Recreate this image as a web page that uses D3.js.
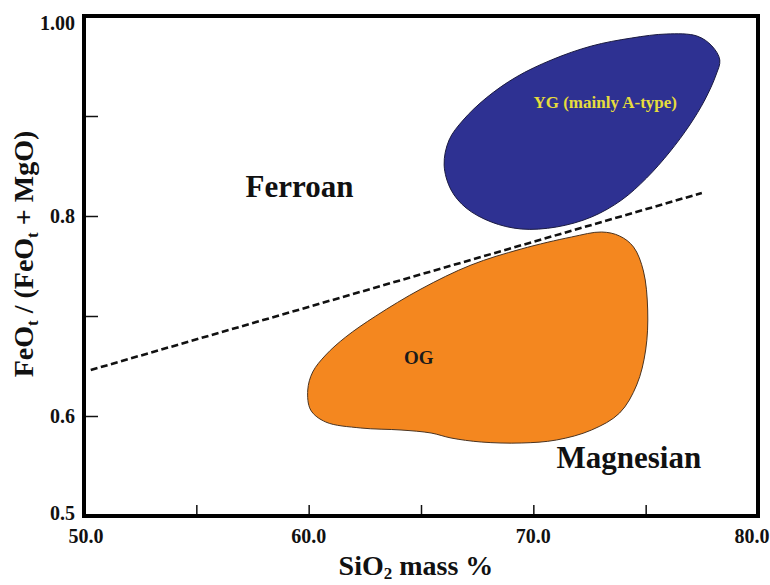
<!DOCTYPE html>
<html><head><meta charset="utf-8">
<script src="https://cdn.jsdelivr.net/npm/d3@7"></script>
<style>
html,body{margin:0;padding:0;background:#fff;}
text{font-family:"Liberation Serif","Times New Roman",serif;font-weight:bold;}
</style></head>
<body><svg id="c" width="770" height="585"></svg>
<script>
// ---- data ----
const xDomain = [50, 80];
const yDomain = [0.5, 1.0];
const xTickMarks = [55, 60, 65, 70, 75];
const xTickLabels = [50, 60, 70, 80];
const yTickMarks = [0.6, 0.7, 0.8, 0.9];
const yTickLabels = [1.0, 0.8, 0.6, 0.5];
const yTickText = ["1.00", "0.8", "0.6", "0.5"];

// boundary line Ferroan / Magnesian
const boundaryLine = [[50.3, 0.646], [77.5, 0.823]];

// YG field (mainly A-type)
const ygX = [66.03,66.25,66.88,67.90,69.24,70.80,72.59,74.38,75.94,77.28,77.95,78.30,78.13,77.63,76.96,76.07,75.04,73.93,72.59,71.03,69.46,68.13,67.01,66.34];
const ygY = [0.851,0.876,0.896,0.918,0.939,0.956,0.970,0.978,0.982,0.980,0.970,0.956,0.941,0.916,0.891,0.864,0.838,0.816,0.799,0.789,0.787,0.794,0.808,0.826];

// OG field
const ogX = [59.96,60.18,60.76,61.65,62.99,65.00,67.23,69.46,71.70,73.04,73.84,74.46,74.90,75.09,75.00,74.60,73.84,72.59,71.03,69.46,67.68,66.34,65.45,64.11,62.32,60.76,60.09];
const ogY = [0.626,0.644,0.661,0.679,0.700,0.727,0.751,0.767,0.779,0.784,0.780,0.769,0.745,0.706,0.666,0.631,0.603,0.586,0.576,0.573,0.574,0.578,0.583,0.586,0.588,0.594,0.606];

// ---- chart ----
const svg = d3.select("#c");
const L = 84, R = 758, T = 16, B = 516;
const x = d3.scaleLinear().domain(xDomain).range([L, R]);
const y = d3.scaleLinear().domain(yDomain).range([B, T]);

const closed = d3.line().x(d => x(d[0])).y(d => y(d[1])).curve(d3.curveCatmullRomClosed.alpha(0.5));

svg.append("path")
  .attr("d", closed(ogX.map((v, i) => [v, ogY[i]])))
  .attr("fill", "#f4871f").attr("stroke", "#4a3320").attr("stroke-width", 1);

svg.append("path")
  .attr("d", closed(ygX.map((v, i) => [v, ygY[i]])))
  .attr("fill", "#2e3192").attr("stroke", "#1a1a40").attr("stroke-width", 1);

svg.append("path")
  .attr("d", d3.line().x(d => x(d[0])).y(d => y(d[1]))(boundaryLine))
  .attr("fill", "none").attr("stroke", "#111").attr("stroke-width", 2.6)
  .attr("stroke-dasharray", "7,3.5");

// axes: inward ticks
svg.append("g").attr("transform", `translate(0,${B})`)
  .call(d3.axisBottom(x).tickValues(xTickMarks).tickSize(-11).tickFormat(""))
  .call(g => { g.select(".domain").remove(); g.selectAll("line").attr("stroke", "#111").attr("stroke-width", 1.5); });
svg.append("g").attr("transform", `translate(${L},0)`)
  .call(d3.axisLeft(y).tickValues(yTickMarks).tickSize(-14).tickFormat(""))
  .call(g => { g.select(".domain").remove(); g.selectAll("line").attr("stroke", "#111").attr("stroke-width", 1.5); });

// frame
svg.append("rect").attr("x", L).attr("y", T).attr("width", R - L).attr("height", B - T)
  .attr("fill", "none").attr("stroke", "#000").attr("stroke-width", 4);

// tick labels
const xOff = [2, 0, 0, -6];
svg.append("g").selectAll("text").data(xTickLabels).join("text")
  .attr("x", (d, i) => x(d) + xOff[i]).attr("y", 543).attr("text-anchor", "middle")
  .attr("font-size", 20).attr("fill", "#111").text(d => d.toFixed(1));
const yOff = [7, 0, 0, -3];
svg.append("g").selectAll("text").data(yTickLabels).join("text")
  .attr("x", 75).attr("y", (d, i) => y(d) + yOff[i]).attr("dy", "0.35em").attr("text-anchor", "end")
  .attr("font-size", 20).attr("fill", "#111").text((d, i) => yTickText[i]);

// axis titles
const xt = svg.append("text").attr("x", 416).attr("y", 575).attr("text-anchor", "middle")
  .attr("font-size", 28).attr("fill", "#111");
xt.append("tspan").text("SiO");
xt.append("tspan").attr("font-size", 17).attr("dy", 4).text("2");
xt.append("tspan").attr("dy", -4).text(" mass %");

const yt = svg.append("text").attr("transform", "translate(33,254) rotate(-90)").attr("text-anchor", "middle")
  .attr("font-size", 28).attr("fill", "#111");
yt.append("tspan").text("FeO");
yt.append("tspan").attr("font-size", 17).attr("dy", 5).text("t");
yt.append("tspan").attr("dy", -5).text(" / (FeO");
yt.append("tspan").attr("font-size", 17).attr("dy", 5).text("t");
yt.append("tspan").attr("dy", -5).text(" + MgO)");

// field labels
svg.append("text").attr("x", x(57.19)).attr("y", y(0.819)).attr("font-size", 31).attr("fill", "#111").text("Ferroan");
svg.append("text").attr("x", x(71.03)).attr("y", y(0.548)).attr("font-size", 31).attr("fill", "#111").text("Magnesian");
svg.append("text").attr("x", x(73.2)).attr("y", y(0.908)).attr("text-anchor", "middle").attr("font-size", 17).attr("fill", "#e6dc3c").text("YG (mainly A-type)");
svg.append("text").attr("x", x(64.9)).attr("y", y(0.652)).attr("text-anchor", "middle").attr("font-size", 19).attr("fill", "#1a1a1a").text("OG");
</script></body></html>
